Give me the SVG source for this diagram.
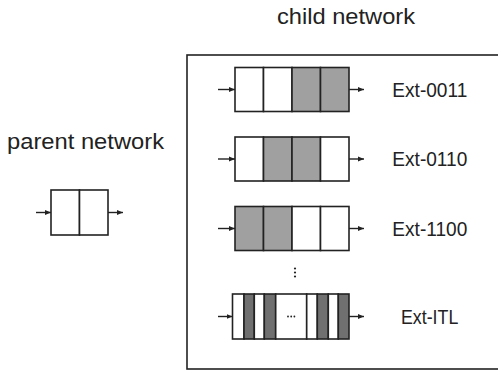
<svg xmlns="http://www.w3.org/2000/svg" width="498" height="371" viewBox="0 0 498 371">
<defs>
<marker id="ah" viewBox="0 0 10 10" refX="10" refY="5" markerWidth="6" markerHeight="6" markerUnits="userSpaceOnUse" orient="auto"><path d="M0,1 L10,5 L0,9 z" fill="#222"/></marker>
<style>
.title{font-family:"Liberation Sans",Arial,sans-serif;font-size:22px;fill:#222}
.lbl{font-family:"Liberation Sans",Arial,sans-serif;font-size:19.5px;fill:#222}
.cell{stroke:#222;stroke-width:1.6;fill:#fff}
.g{fill:#a0a0a0}
.d{fill:#707070}
.frame{fill:none;stroke:#222;stroke-width:1.6}
.con{stroke:#222;stroke-width:1.4;fill:none;marker-end:url(#ah)}
</style>
</defs>
<rect width="498" height="371" fill="#fff"/>
<text class="title" x="277" y="24" textLength="138" lengthAdjust="spacingAndGlyphs">child network</text>
<text class="title" x="7" y="149" textLength="157" lengthAdjust="spacingAndGlyphs">parent network</text>
<rect class="frame" x="187" y="55" width="320" height="314"/>

<g id="parent">
<rect class="cell" x="51" y="190" width="28.5" height="45"/>
<rect class="cell" x="79.5" y="190" width="28.5" height="45"/>
</g>

<g id="ext-0011">
<rect class="cell" x="235" y="67.5" width="28.5" height="44"/>
<rect class="cell" x="263.5" y="67.5" width="28.5" height="44"/>
<rect class="cell g" x="292" y="67.5" width="28.5" height="44"/>
<rect class="cell g" x="320.5" y="67.5" width="28.5" height="44"/>
<text class="lbl" x="392.3" y="96.7" textLength="75" lengthAdjust="spacingAndGlyphs">Ext-0011</text>
</g>

<g id="ext-0110">
<rect class="cell" x="235" y="137" width="28.5" height="44"/>
<rect class="cell g" x="263.5" y="137" width="28.5" height="44"/>
<rect class="cell g" x="292" y="137" width="28.5" height="44"/>
<rect class="cell" x="320.5" y="137" width="28.5" height="44"/>
<text class="lbl" x="392.3" y="166" textLength="75" lengthAdjust="spacingAndGlyphs">Ext-0110</text>
</g>

<g id="ext-1100">
<rect class="cell g" x="235" y="206.5" width="28.5" height="44"/>
<rect class="cell g" x="263.5" y="206.5" width="28.5" height="44"/>
<rect class="cell" x="292" y="206.5" width="28.5" height="44"/>
<rect class="cell" x="320.5" y="206.5" width="28.5" height="44"/>
<text class="lbl" x="392.3" y="236" textLength="75" lengthAdjust="spacingAndGlyphs">Ext-1100</text>
</g>

<g id="vdots" fill="#222">
<circle cx="295" cy="268.5" r="1.1"/>
<circle cx="295" cy="272.5" r="1.1"/>
<circle cx="295" cy="276.5" r="1.1"/>
</g>

<g id="ext-itl">
<rect class="cell" x="232.5" y="294" width="11.5" height="45"/>
<rect class="cell d" x="244" y="294" width="10.3" height="45"/>
<rect class="cell" x="254.3" y="294" width="10" height="45"/>
<rect class="cell d" x="264.3" y="294" width="11.4" height="45"/>
<rect class="cell" x="275.7" y="294" width="31" height="45"/>
<rect class="cell" x="306.7" y="294" width="10.6" height="45"/>
<rect class="cell d" x="317.3" y="294" width="11" height="45"/>
<rect class="cell" x="328.3" y="294" width="10" height="45"/>
<rect class="cell d" x="338.3" y="294" width="10.7" height="45"/>
<g fill="#222"><circle cx="288" cy="316.5" r="0.9"/><circle cx="291.2" cy="316.5" r="0.9"/><circle cx="294.4" cy="316.5" r="0.9"/></g>
<text class="lbl" x="401" y="323.5" textLength="57.3" lengthAdjust="spacingAndGlyphs">Ext-ITL</text>
</g>

<g id="connectors">
<line class="con" x1="36" y1="212.5" x2="51" y2="212.5"/>
<line class="con" x1="108" y1="212.5" x2="123" y2="212.5"/>
<line class="con" x1="218" y1="89.5" x2="235" y2="89.5"/>
<line class="con" x1="349" y1="89.5" x2="364" y2="89.5"/>
<line class="con" x1="218" y1="159" x2="235" y2="159"/>
<line class="con" x1="349" y1="159" x2="364" y2="159"/>
<line class="con" x1="218" y1="228.5" x2="235" y2="228.5"/>
<line class="con" x1="349" y1="228.5" x2="364" y2="228.5"/>
<line class="con" x1="218" y1="316.5" x2="232.5" y2="316.5"/>
<line class="con" x1="349" y1="316.5" x2="364" y2="316.5"/>
</g>
</svg>
